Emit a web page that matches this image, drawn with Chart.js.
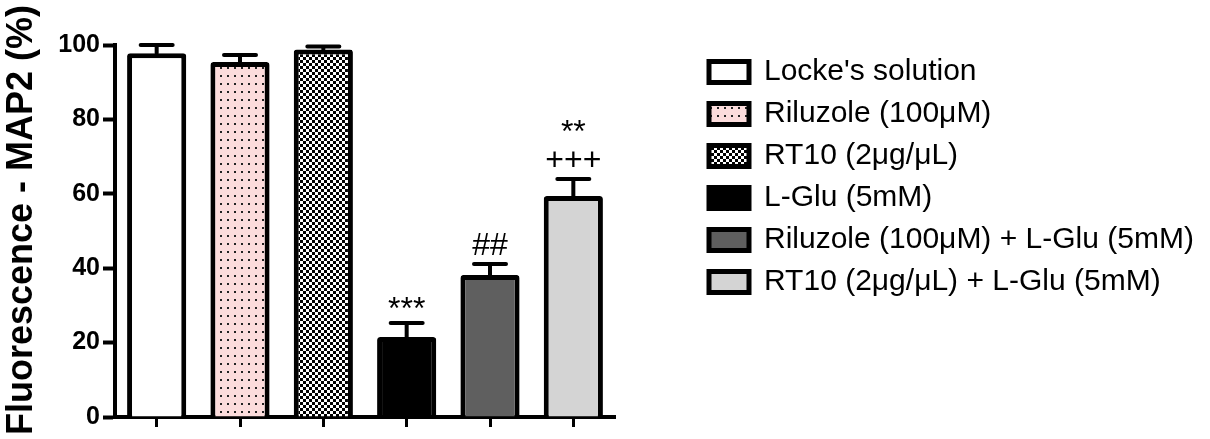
<!DOCTYPE html>
<html>
<head>
<meta charset="utf-8">
<script src="https://cdn.jsdelivr.net/npm/chart.js@4"></script>
<style>
  body { margin: 0; background: #fff; }
  #wrap { width: 1210px; height: 439px; position: relative; }
</style>
</head>
<body>
<div id="wrap"><canvas id="grafico"></canvas></div>
<script>
const grupos = ["Locke's solution", "Riluzole (100\u03bcM)", "RT10 (2\u03bcg/\u03bcL)", "L-Glu (5mM)",
  "Riluzole (100\u03bcM) + L-Glu (5mM)", "RT10 (2\u03bcg/\u03bcL) + L-Glu (5mM)"];
const medias = [97.8, 95.4, 98.8, 21.5, 38.2, 59.4];
const erros = [2.2, 1.9, 0.8, 3.8, 2.9, 4.6];
const marcasControle = ["", "", "", "***", "", "**"];
const marcasGlu = ["", "", "", "", "##", "+++"];
const yTicks = [0, 20, 40, 60, 80, 100];

const fonte = "'Liberation Sans', Arial, sans-serif";
Chart.defaults.font.family = fonte;
Chart.defaults.color = "#000";

// padroes de preenchimento
function padraoPontos() {
  const c = document.createElement("canvas");
  c.width = 7; c.height = 8;
  const g = c.getContext("2d");
  g.fillStyle = "#fcdcdc";
  g.fillRect(0, 0, 7, 8);
  g.fillStyle = "#222";
  g.fillRect(3, 3, 2, 2);
  return g.createPattern(c, "repeat");
}
function padraoXadrez() {
  const c = document.createElement("canvas");
  c.width = 6; c.height = 6;
  const g = c.getContext("2d");
  g.fillStyle = "#fff";
  g.fillRect(0, 0, 6, 6);
  g.fillStyle = "#000";
  g.fillRect(0, 0, 3, 3);
  g.fillRect(3, 3, 3, 3);
  return g.createPattern(c, "repeat");
}
const cores = ["#ffffff", padraoPontos(), padraoXadrez(), "#000000", "#5f5f5f", "#d4d4d4"];

const errorBars = {
  id: "errorBars",
  afterDatasetsDraw(chart) {
    const ctx = chart.ctx;
    const y = chart.scales.y;
    const meta = chart.getDatasetMeta(0);
    ctx.save();
    ctx.strokeStyle = "#000";
    ctx.lineWidth = 4;
    ctx.lineCap = "round";
    meta.data.forEach((bar, i) => {
      const topo = y.getPixelForValue(medias[i]);
      const cap = y.getPixelForValue(medias[i] + erros[i]);
      ctx.beginPath();
      ctx.moveTo(bar.x, topo);
      ctx.lineTo(bar.x, cap);
      ctx.moveTo(bar.x - 16, cap);
      ctx.lineTo(bar.x + 16, cap);
      ctx.stroke();

      ctx.fillStyle = "#000";
      ctx.font = "32px " + fonte;
      ctx.textAlign = "center";
      ctx.textBaseline = "alphabetic";
      if (marcasGlu[i]) {
        ctx.fillText(marcasGlu[i], bar.x, cap - 9);
        if (marcasControle[i]) ctx.fillText(marcasControle[i], bar.x, cap - 37);
      } else if (marcasControle[i]) {
        ctx.fillText(marcasControle[i], bar.x, cap - 4);
      }
    });
    ctx.restore();
  }
};

// legenda mais larga e titulo do eixo y um pouco mais alto
const ajustes = {
  id: "ajustes",
  beforeUpdate(chart) {
    if (chart.legend && !chart.legend._ajustada) {
      const fit = chart.legend.fit;
      chart.legend.fit = function () {
        fit.call(this);
        this.width = 513;
      };
      chart.legend._ajustada = true;
    }
  },
  afterLayout(chart) {
    const s = chart.scales.y;
    if (s && !s._ajustada) {
      const drawTitle = s.drawTitle;
      s.drawTitle = function () {
        this.ctx.save();
        this.ctx.translate(0, -11);
        drawTitle.call(this);
        this.ctx.restore();
      };
      s._ajustada = true;
    }
  }
};

const ctx = document.getElementById("grafico");
window.myChart = new Chart(ctx, {
  type: "bar",
  data: {
    labels: grupos,
    datasets: [{
      label: "MAP2",
      data: medias,
      backgroundColor: cores,
      borderColor: "#000",
      borderWidth: 5,
      borderSkipped: "start",
      borderRadius: { topLeft: 3, topRight: 3 },
      barPercentage: 0.71,
      categoryPercentage: 1
    }]
  },
  options: {
    responsive: true,
    maintainAspectRatio: false,
    animation: false,
    devicePixelRatio: 1,
    layout: { padding: { top: 45, right: 0, bottom: 0, left: 0 } },
    plugins: {
      tooltip: { enabled: false },
      legend: {
        position: "right",
        align: "start",
        labels: {
          boxWidth: 40,
          boxHeight: 21,
          padding: 12,
          color: "#000",
          useBorderRadius: true,
          borderRadius: 3,
          font: { size: 30, family: fonte },
          generateLabels: () => grupos.map((g, i) => ({
            text: g,
            fillStyle: cores[i],
            strokeStyle: "#000",
            lineWidth: 5,
            hidden: false,
            index: i
          }))
        }
      }
    },
    scales: {
      x: {
        offset: true,
        grid: { display: true, drawOnChartArea: false, offset: false, tickLength: 10, tickWidth: 3, color: "#000" },
        border: { display: true, width: 4, color: "#000" },
        ticks: { display: false },
        afterFit(s) { s.height = 22; }
      },
      y: {
        min: 0,
        max: 100,
        afterBuildTicks(s) { s.ticks = yTicks.map(v => ({ value: v })); },
        grid: { display: true, drawOnChartArea: false, tickLength: 12, tickWidth: 4, color: "#000" },
        border: { display: true, width: 4, color: "#000" },
        ticks: { padding: 3, color: "#000", font: { size: 25, weight: "bold", family: fonte } },
        title: {
          display: true,
          text: "Fluorescence - MAP2 (%)",
          color: "#000",
          padding: 0,
          font: { size: 36, weight: "bold", family: fonte }
        },
        afterFit(s) { s.width = 115; }
      },
      espaco: {
        type: "linear",
        position: "right",
        display: true,
        grid: { display: false },
        border: { display: false },
        ticks: { display: false },
        afterFit(s) { s.width = 82; }
      }
    }
  },
  plugins: [errorBars, ajustes]
});
</script>
</body>
</html>
